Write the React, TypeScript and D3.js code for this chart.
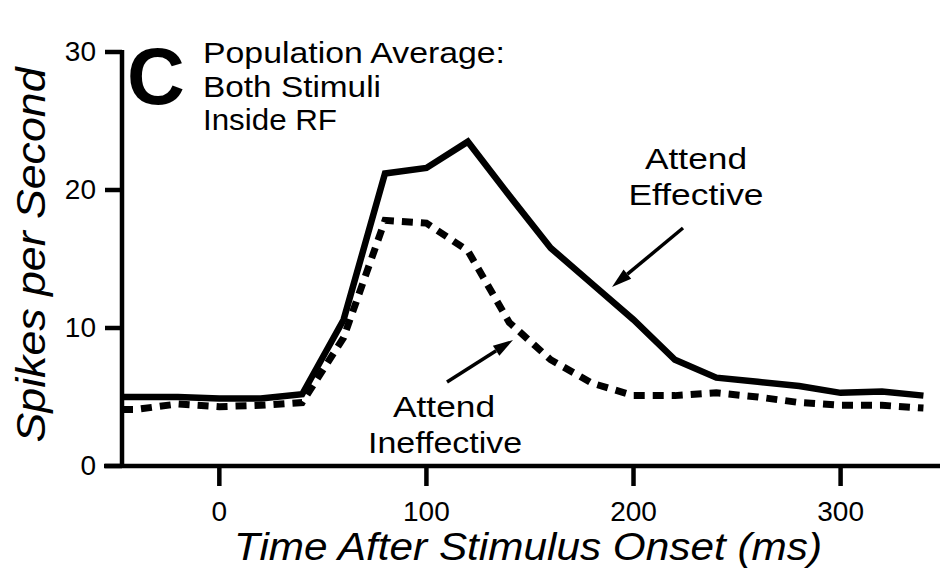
import React from "react";
import * as d3 from "d3";

const times = [-47, -40, -20, 0, 20, 40, 60, 80, 100, 120, 140, 160, 180, 200, 220, 240, 260, 280, 300, 320, 340];
const attendEffective = [5.0, 5.0, 5.0, 4.9, 4.9, 5.2, 10.6, 21.2, 21.6, 23.5, 19.6, 15.8, 13.2, 10.6, 7.7, 6.4, 6.1, 5.8, 5.3, 5.4, 5.1];
const attendIneffective = [4.1, 4.1, 4.5, 4.3, 4.4, 4.6, 9.3, 17.8, 17.6, 15.6, 10.4, 7.7, 6.0, 5.1, 5.1, 5.3, 5.0, 4.6, 4.4, 4.4, 4.2];
const xTicks = [0, 100, 200, 300];
const yTicks = [0, 10, 20, 30];
const titleLines = ["Population Average:", "Both Stimuli", "Inside RF"];

const W = 942;
const H = 576;
const FONT = "'Liberation Sans', Arial, Helvetica, sans-serif";

export default function App() {
  const x = d3.scaleLinear().domain([-47, 348]).range([122, 940]);
  const y = d3.scaleLinear().domain([0, 30]).range([466, 52]);
  const line = d3
    .line<number>()
    .x((_, i) => x(times[i]))
    .y((d) => y(d))
    .curve(d3.curveLinear);

  const arrow = (x1: number, y1: number, x2: number, y2: number) => {
    const ang = Math.atan2(y2 - y1, x2 - x1);
    const L = 20;
    const w = 6;
    const bx = x2 - L * Math.cos(ang);
    const by = y2 - L * Math.sin(ang);
    const px = -Math.sin(ang) * w;
    const py = Math.cos(ang) * w;
    return (
      <g>
        <line x1={x1} y1={y1} x2={bx} y2={by} stroke="#000" strokeWidth={3.5} />
        <polygon points={`${x2},${y2} ${bx + px},${by + py} ${bx - px},${by - py}`} fill="#000" />
      </g>
    );
  };

  const label = (s: string, cx: number, by: number, len: number) => (
    <text
      x={cx}
      y={by}
      textAnchor="middle"
      fontFamily={FONT}
      fontSize={30}
      textLength={len}
      lengthAdjust="spacingAndGlyphs"
      fill="#000"
    >
      {s}
    </text>
  );

  return (
    <div style={{ position: "absolute", left: 0, top: 0 }}>
      <svg width={W} height={H} style={{ display: "block", background: "#fff" }}>
        {/* axes */}
        <line x1={x.range()[0]} y1={y(0)} x2={x.range()[0]} y2={y(30) - 2} stroke="#000" strokeWidth={4.5} />
        <line x1={104} y1={y(0)} x2={940} y2={y(0)} stroke="#000" strokeWidth={4.5} />
        {yTicks.map((t) => (
          <g key={"y" + t}>
            <line x1={105} x2={x.range()[0]} y1={y(t)} y2={y(t)} stroke="#000" strokeWidth={4.5} />
            <text x={96} y={y(t) + 9} textAnchor="end" fontFamily={FONT} fontSize={28} fill="#000">
              {t}
            </text>
          </g>
        ))}
        {xTicks.map((t) => (
          <g key={"x" + t}>
            <line x1={x(t)} x2={x(t)} y1={y(0)} y2={y(0) + 20} stroke="#000" strokeWidth={4.5} />
            <text x={x(t)} y={521} textAnchor="middle" fontFamily={FONT} fontSize={28} fill="#000">
              {t}
            </text>
          </g>
        ))}
        <text
          x={528}
          y={560}
          textAnchor="middle"
          fontFamily={FONT}
          fontStyle="italic"
          fontSize={39}
          textLength={588}
          lengthAdjust="spacingAndGlyphs"
          fill="#000"
        >
          Time After Stimulus Onset (ms)
        </text>
        <text
          transform="translate(45,255) rotate(-90)"
          textAnchor="middle"
          fontFamily={FONT}
          fontStyle="italic"
          fontSize={40}
          textLength={375}
          lengthAdjust="spacingAndGlyphs"
          fill="#000"
        >
          Spikes per Second
        </text>

        {/* series */}
        <path d={line(attendEffective) || ""} fill="none" stroke="#000" strokeWidth={6.5} strokeLinejoin="miter" />
        <path
          d={line(attendIneffective) || ""}
          fill="none"
          stroke="#000"
          strokeWidth={7}
          strokeDasharray="11 8"
          strokeLinejoin="miter"
        />

        {/* title */}
        <text x={127} y={104} fontFamily={FONT} fontWeight="bold" fontSize={80} fill="#000">
          C
        </text>
        {titleLines.map((s, i) => (
          <text
            key={s}
            x={203}
            y={63 + i * 33.5}
            fontFamily={FONT}
            fontSize={30}
            textLength={[302, 178, 134][i]}
            lengthAdjust="spacingAndGlyphs"
            fill="#000"
          >
            {s}
          </text>
        ))}

        {/* annotations */}
        {label("Attend", 696, 169, 102)}
        {label("Effective", 696, 205, 135)}
        {arrow(683, 228, 612, 287)}
        {label("Attend", 444, 417, 102)}
        {label("Ineffective", 445, 453, 154)}
        {arrow(447, 382, 513, 340)}
      </svg>
    </div>
  );
}
